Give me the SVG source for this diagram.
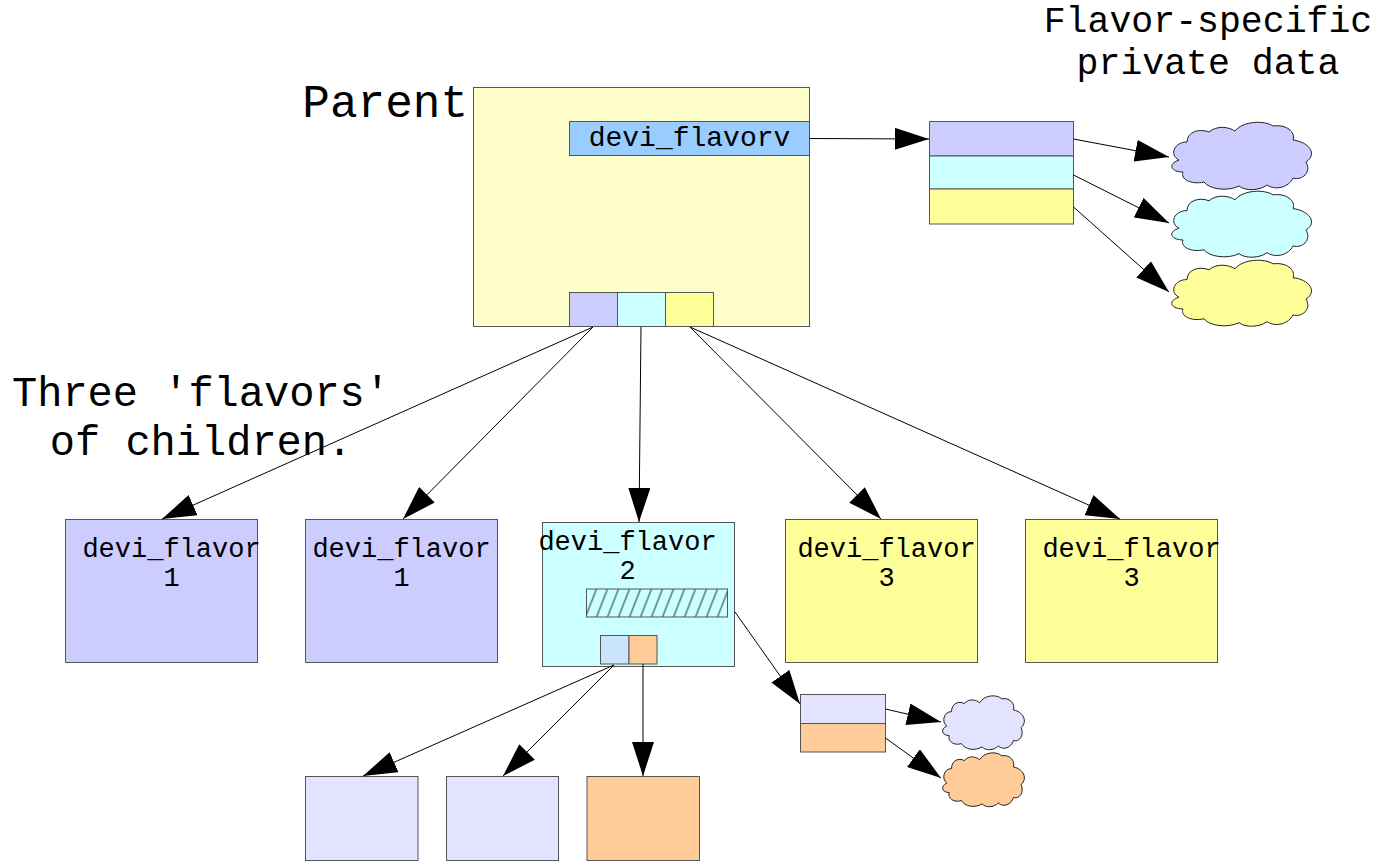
<svg xmlns="http://www.w3.org/2000/svg" width="1395" height="862" viewBox="0 0 1395 862">
<style>
  .box { stroke: #555; stroke-width: 1; }
  .txt { font-family: "Liberation Mono", "DejaVu Sans Mono", monospace; fill: #000; }
  .conn { stroke: #000; stroke-width: 1; fill: none; marker-end: url(#arrow); }
  .cloud { stroke: #222; stroke-width: 1; }
  .lav { fill: #CCCCFF; }
  .cyan { fill: #CCFFFF; }
  .yel { fill: #FFFF99; }
  .lav2 { fill: #E3E3FF; }
  .org { fill: #FFCC99; }
</style>
<defs>
  <marker id="arrow" markerUnits="userSpaceOnUse" markerWidth="34" markerHeight="22" refX="34" refY="11" orient="auto">
    <path d="M0,0 L34,11 L0,22 Z" fill="#000"/>
  </marker>
  <pattern id="hatch" patternUnits="userSpaceOnUse" x="586.5" y="589" width="11" height="28">
    <rect width="11" height="28" fill="#CCFFFF"/>
    <line x1="-1" y1="28" x2="10" y2="0" stroke="#2A4A4A" stroke-width="1.1"/>
    <line x1="10" y1="28" x2="21" y2="0" stroke="#2A4A4A" stroke-width="1.1"/>
  </pattern>
  <path id="cloud" vector-effect="non-scaling-stroke" d="M10,40 C0,35 5,22 18,22 C18,12 30,8 40,12 C48,5 60,7 66,11 C74,1 95,0 104,6 C117,4 127,12 124,20 C140,22 149,34 137,42 C143,52 133,61 124,58 C120,67 107,71 98,65 C90,71 76,71 70,66 C58,72 40,69 35,62 C22,65 11,59 14,52 C2,52 -2,44 10,40 Z"/>
</defs>

<rect width="1395" height="862" fill="#FFFFFF"/>

<g id="labels">
  <text class="txt" x="468" y="117" font-size="46" text-anchor="end">Parent</text>
  <text class="txt" x="201" y="406" font-size="42" text-anchor="middle">Three 'flavors'</text>
  <text class="txt" x="201" y="455" font-size="42" text-anchor="middle">of children.</text>
  <text class="txt" x="1208" y="32" font-size="36.5" text-anchor="middle">Flavor-specific</text>
  <text class="txt" x="1208" y="74" font-size="36.5" text-anchor="middle">private data</text>
</g>

<g id="parent">
  <rect class="box" x="473.5" y="87.5" width="336" height="239" fill="#FFFFCC"/>
  <rect class="box" x="569.5" y="121.5" width="240" height="34" fill="#99CCFF"/>
  <text class="txt" x="689.5" y="146" font-size="28" text-anchor="middle">devi_flavorv</text>
  <rect class="box lav" x="569.5" y="292.5" width="48" height="34"/>
  <rect class="box cyan" x="617.5" y="292.5" width="48" height="34"/>
  <rect class="box yel" x="665.5" y="292.5" width="48" height="34"/>
</g>

<g id="private-table">
  <rect class="box lav" x="929.5" y="121.5" width="144" height="34.5"/>
  <rect class="box cyan" x="929.5" y="156" width="144" height="33"/>
  <rect class="box yel" x="929.5" y="189" width="144" height="35"/>
</g>

<g id="private-cloud-1"><use href="#cloud" class="cloud lav" transform="translate(1169,120)"/></g>
<g id="private-cloud-2"><use href="#cloud" class="cloud cyan" transform="translate(1169,189) scale(1,0.98)"/></g>
<g id="private-cloud-3"><use href="#cloud" class="cloud yel" transform="translate(1169,258) scale(1,0.98)"/></g>

<g id="child-1">
  <rect class="box lav" x="65.5" y="519.5" width="192" height="143"/>
  <text class="txt" x="171.5" y="557" font-size="27" text-anchor="middle">devi_flavor</text>
  <text class="txt" x="171.5" y="586" font-size="27" text-anchor="middle">1</text>
</g>
<g id="child-2">
  <rect class="box lav" x="305.5" y="519.5" width="192" height="143"/>
  <text class="txt" x="401.5" y="557" font-size="27" text-anchor="middle">devi_flavor</text>
  <text class="txt" x="401.5" y="586" font-size="27" text-anchor="middle">1</text>
</g>
<g id="child-3">
  <rect class="box cyan" x="542.5" y="522.5" width="192" height="144"/>
  <text class="txt" x="627.5" y="550" font-size="27" text-anchor="middle">devi_flavor</text>
  <text class="txt" x="627.5" y="579" font-size="27" text-anchor="middle">2</text>
  <rect class="box" x="586.5" y="589" width="141" height="28" fill="url(#hatch)"/>
  <rect class="box" x="600.5" y="635.5" width="28.5" height="28.5" fill="#CCE5FF"/>
  <rect class="box org" x="629" y="635.5" width="28" height="28.5"/>
</g>
<g id="child-4">
  <rect class="box yel" x="785.5" y="519.5" width="192" height="143"/>
  <text class="txt" x="886.5" y="557" font-size="27" text-anchor="middle">devi_flavor</text>
  <text class="txt" x="886.5" y="586" font-size="27" text-anchor="middle">3</text>
</g>
<g id="child-5">
  <rect class="box yel" x="1025.5" y="519.5" width="192" height="143"/>
  <text class="txt" x="1131.5" y="557" font-size="27" text-anchor="middle">devi_flavor</text>
  <text class="txt" x="1131.5" y="586" font-size="27" text-anchor="middle">3</text>
</g>

<g id="grandchild-1"><rect class="box lav2" x="305.5" y="776.5" width="112.5" height="84"/></g>
<g id="grandchild-2"><rect class="box lav2" x="446.5" y="776.5" width="112" height="84"/></g>
<g id="grandchild-3"><rect class="box org" x="587" y="776.5" width="112.5" height="84"/></g>

<g id="child2-table">
  <rect class="box lav2" x="800.5" y="694.5" width="85" height="29"/>
  <rect class="box org" x="800.5" y="723.5" width="85" height="28.5"/>
</g>
<g id="child2-cloud-1"><use href="#cloud" class="cloud lav2" transform="translate(941,694) scale(0.585,0.8)"/></g>
<g id="child2-cloud-2"><use href="#cloud" class="cloud org" transform="translate(941,751) scale(0.585,0.8)"/></g>

<g id="connectors">
  <line class="conn" x1="593" y1="327" x2="162" y2="519"/>
  <line class="conn" x1="593" y1="327" x2="403" y2="519"/>
  <line class="conn" x1="641" y1="327" x2="639" y2="522"/>
  <line class="conn" x1="690" y1="327" x2="881" y2="519"/>
  <line class="conn" x1="690" y1="327" x2="1120" y2="519"/>
  <line class="conn" x1="809.5" y1="138.5" x2="929" y2="139"/>
  <line class="conn" x1="1073.5" y1="139" x2="1169" y2="157"/>
  <line class="conn" x1="1073.5" y1="175" x2="1169" y2="223"/>
  <line class="conn" x1="1073.5" y1="207" x2="1169" y2="292"/>
  <line class="conn" x1="735" y1="612" x2="800" y2="704"/>
  <line class="conn" x1="614" y1="665" x2="363" y2="776"/>
  <line class="conn" x1="614" y1="665" x2="503" y2="776"/>
  <line class="conn" x1="643" y1="664" x2="643" y2="776"/>
  <line class="conn" x1="885.5" y1="709" x2="941" y2="722"/>
  <line class="conn" x1="885.5" y1="738" x2="941" y2="778"/>
</g>
</svg>
